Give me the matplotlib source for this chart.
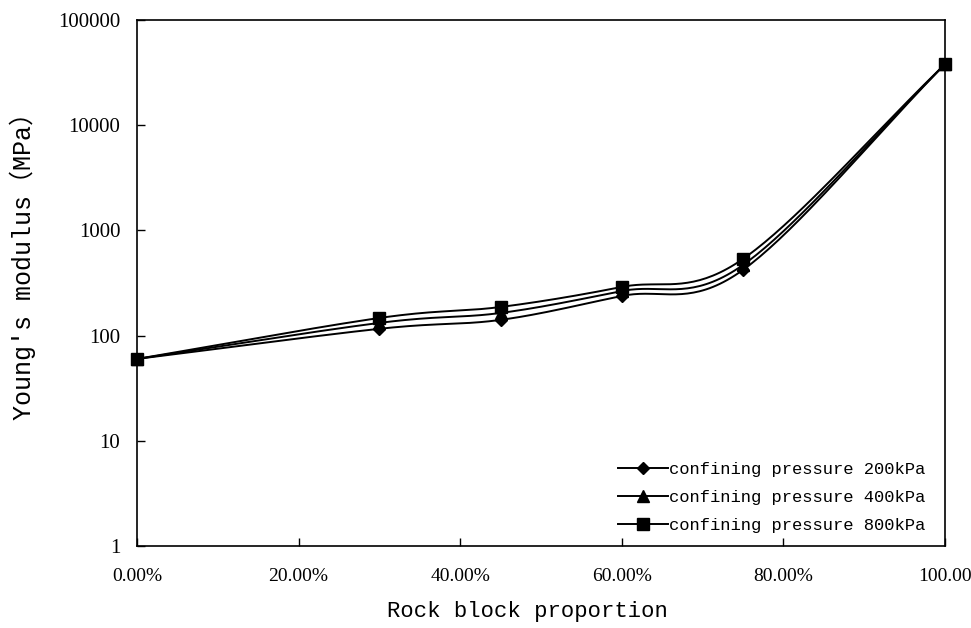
import numpy as np
import matplotlib
matplotlib.use("Agg")
import matplotlib.pyplot as plt
from matplotlib.ticker import FixedLocator, FixedFormatter

# Rock block proportion (fraction) and Young's modulus (MPa) per confining pressure
proportion = [0.0, 0.30, 0.45, 0.60, 0.75, 1.00]
modulus_200kPa = [60, 116, 141, 238, 421, 38000]
modulus_400kPa = [60, 132, 164, 265, 469, 38000]
modulus_800kPa = [60, 147, 187, 290, 535, 38000]

series_labels = ["confining pressure 200kPa",
                 "confining pressure 400kPa",
                 "confining pressure 800kPa"]
series_markers = ["D", "^", "s"]

x_ticks = [0.0, 0.2, 0.4, 0.6, 0.8, 1.0]
x_tick_labels = ["0.00%", "20.00%", "40.00%", "60.00%", "80.00%", "100.00"]
y_ticks = [1, 10, 100, 1000, 10000, 100000]
y_tick_labels = ["1", "10", "100", "1000", "10000", "100000"]


def smooth_curve(x, y, n=40):
    """Catmull-Rom style smoothing in (x, log10 y) space, like a spreadsheet smoothed line."""
    x = np.asarray(x, float)
    ly = np.log10(np.asarray(y, float))
    px = np.concatenate([[2 * x[0] - x[1]], x, [2 * x[-1] - x[-2]]])
    py = np.concatenate([[2 * ly[0] - ly[1]], ly, [2 * ly[-1] - ly[-2]]])
    xs, ys = [], []
    for i in range(1, len(px) - 2):
        p0 = np.array([px[i - 1], py[i - 1]])
        p1 = np.array([px[i], py[i]])
        p2 = np.array([px[i + 1], py[i + 1]])
        p3 = np.array([px[i + 2], py[i + 2]])
        c1 = p1 + (p2 - p0) / 6.0
        c2 = p2 - (p3 - p1) / 6.0
        t = np.linspace(0, 1, n)[:, None]
        pts = ((1 - t) ** 3) * p1 + 3 * ((1 - t) ** 2) * t * c1 + 3 * (1 - t) * t ** 2 * c2 + t ** 3 * p2
        xs.append(pts[:, 0])
        ys.append(pts[:, 1])
    return np.concatenate(xs), 10 ** np.concatenate(ys)


fig = plt.figure(figsize=(9.71, 6.28), dpi=100)
ax = fig.add_axes([0.1411, 0.1306, 0.8321, 0.8376])

for vals, lab, mk in zip([modulus_200kPa, modulus_400kPa, modulus_800kPa],
                         series_labels, series_markers):
    ms = 8 if mk != "D" else 6.5
    sx, sy = smooth_curve(proportion, vals)
    ax.plot(sx, sy, color="black", lw=1.4, zorder=2)
    ax.plot(proportion, vals, linestyle="none", marker=mk, color="black",
            markersize=ms, clip_on=False, zorder=3)
    ax.plot([], [], color="black", lw=1.4, marker=mk, markersize=ms, label=lab)

ax.set_yscale("log")
ax.set_xlim(0, 1)
ax.set_ylim(1, 100000)
ax.xaxis.set_major_locator(FixedLocator(x_ticks))
ax.xaxis.set_major_formatter(FixedFormatter(x_tick_labels))
ax.yaxis.set_major_locator(FixedLocator(y_ticks))
ax.yaxis.set_major_formatter(FixedFormatter(y_tick_labels))
ax.yaxis.set_minor_locator(FixedLocator([]))
ax.tick_params(axis="both", direction="in", length=6, width=1.0)
ax.tick_params(axis="y", pad=12, labelsize=15)
ax.tick_params(axis="x", pad=16, labelsize=14)
for lbl in ax.get_xticklabels() + ax.get_yticklabels():
    lbl.set_fontfamily("Liberation Serif")
for sp in ax.spines.values():
    sp.set_linewidth(1.2)

ax.set_xlabel("Rock block proportion", fontfamily="Liberation Mono", fontsize=16)
ax.set_ylabel("Young's modulus（MPa）",
              fontfamily=["Liberation Mono", "Noto Sans CJK SC"], fontsize=18)
ax.xaxis.set_label_coords(0.483, -0.104)
ax.yaxis.set_label_coords(-0.125, 0.544)

leg = ax.legend(loc="lower right", bbox_to_anchor=(0.995, -0.005), frameon=False,
                prop={"family": "Liberation Mono", "size": 12.3},
                handlelength=2.9, handletextpad=0.1, labelspacing=0.78)

fig.savefig("out.png", dpi=100)
